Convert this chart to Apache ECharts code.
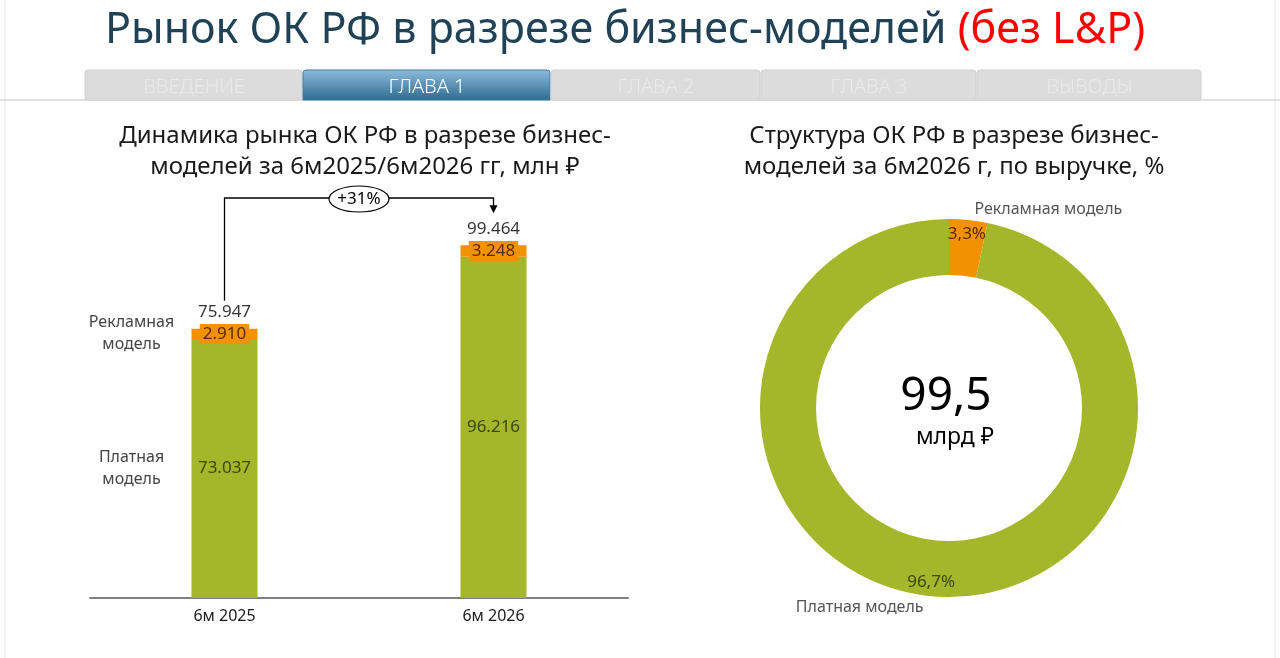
<!DOCTYPE html>
<html>
<head>
<meta charset="utf-8">
<title>Рынок ОК РФ в разрезе бизнес-моделей</title>
<script src="https://cdn.jsdelivr.net/npm/echarts@6/dist/echarts.min.js"></script>
<style>
  html, body { margin: 0; padding: 0; background: #fff; }
  #main { width: 1280px; height: 658px; }
</style>
</head>
<body>
<div id="main"></div>
<script type="text/javascript">
// данные, млн руб.
var categories = ['6м 2025', '6м 2026'];
var paid = [73037, 96216];   // Платная модель
var ads = [2910, 3248];      // Рекламная модель
var seriesNames = ['Платная модель', 'Рекламная модель'];
var tabs = ['ВВЕДЕНИЕ', 'ГЛАВА 1', 'ГЛАВА 2', 'ГЛАВА 3', 'ВЫВОДЫ'];
var activeTab = 1;

var GREEN = '#a4b62a';
var ORANGE = '#f39200';
var FONT = 'Noto Sans';

var totals = paid.map(function (v, i) { return v + ads[i]; });

// 75947 -> "75.947"
function fmt(v) {
	return String(v).replace(/\B(?=(\d{3})+(?!\d))/g, '.');
}
function comma(v, d) {
	return v.toFixed(d).replace('.', ',');
}

var chart = echarts.init(document.getElementById('main'));

var option = {
	animation: false,
	textStyle: { fontFamily: FONT },
	title: [{
		left: 100, top: 4,
		text: '{a|Рынок ОК РФ в разрезе бизнес-моделей }{b|(без L&P)}',
		textStyle: {
			fontWeight: 'normal',
			rich: {
				a: { fontSize: 43, fontWeight: 'normal', color: '#1f4257', fontFamily: FONT },
				b: { fontSize: 43, fontWeight: 'normal', color: '#ff0000', fontFamily: FONT }
			}
		}
	}, {
		left: 360, top: 116, textAlign: 'center',
		text: 'Динамика рынка ОК РФ в разрезе бизнес-\nмоделей за 6м2025/6м2026 гг, млн ₽',
		textStyle: { fontSize: 24, lineHeight: 31, fontWeight: 'normal', color: '#1a1a1a' }
	}, {
		left: 949, top: 116, textAlign: 'center',
		text: 'Структура ОК РФ в разрезе бизнес-\nмоделей за 6м2026 г, по выручке, %',
		textStyle: { fontSize: 24, lineHeight: 31, fontWeight: 'normal', color: '#1a1a1a' }
	}],
	grid: { left: 90, right: 652, top: 208, bottom: 60 },
	xAxis: {
		type: 'category',
		data: categories,
		axisTick: { show: false },
		axisLine: { lineStyle: { color: '#7f7f7f', width: 2 } },
		axisLabel: { fontSize: 16, color: '#1a1a1a', margin: 10 }
	},
	yAxis: { type: 'value', show: false, min: 0, max: 110000, splitLine: { show: false } },
	series: [{
		name: seriesNames[0],
		type: 'bar', stack: 'a', barWidth: 66, barGap: '-100%',
		data: paid,
		itemStyle: { color: GREEN },
		label: {
			show: true, position: 'inside', fontSize: 17, color: '#3a4812',
			formatter: function (p) { return fmt(p.value); }
		}
	}, {
		name: seriesNames[1],
		type: 'bar', stack: 'a', barWidth: 66, barGap: '-100%',
		data: ads,
		itemStyle: { color: ORANGE },
		label: {
			show: true, position: 'inside', fontSize: 17, color: '#5a2a00',
			backgroundColor: ORANGE, padding: [2, 3, 1, 3],
			formatter: function (p) { return fmt(p.value); }
		}
	}, {
		// подписи слева от первого столбца
		name: 'ghost-paid',
		type: 'bar', stack: 'b', barWidth: 66, barGap: '-100%', silent: true,
		data: paid.map(function (v, i) { return { value: v, label: { show: i === 0 } }; }),
		itemStyle: { color: 'rgba(0,0,0,0)' },
		label: {
			position: 'left', distance: 60, align: 'center', fontSize: 16, lineHeight: 22,
			color: '#444', formatter: 'Платная\nмодель'
		}
	}, {
		name: 'ghost-ads',
		type: 'bar', stack: 'b', barWidth: 66, barGap: '-100%', silent: true,
		data: ads.map(function (v, i) { return { value: v, label: { show: i === 0 } }; }),
		itemStyle: { color: 'rgba(0,0,0,0)' },
		label: {
			position: 'left', distance: 60, align: 'center', fontSize: 16, lineHeight: 22,
			color: '#444', formatter: 'Рекламная\nмодель'
		}
	}, {
		// итоги над столбцами
		name: 'Итого',
		type: 'scatter', symbolSize: 2, silent: true,
		data: totals,
		itemStyle: { color: 'rgba(0,0,0,0)' },
		label: {
			show: true, position: 'top', distance: 7, fontSize: 17, color: '#000',
			formatter: function (p) { return fmt(p.value); }
		},
		z: 5
	}, {
		// кольцо
		type: 'pie', silent: true,
		center: [949, 408], radius: [133, 189],
		startAngle: 90, clockwise: true,
		label: { show: false }, labelLine: { show: false },
		data: [
			{ name: seriesNames[1], value: ads[1], itemStyle: { color: ORANGE } },
			{ name: seriesNames[0], value: paid[1], itemStyle: { color: GREEN } }
		]
	}, {
		// проценты внутри кольца
		type: 'pie', silent: true,
		center: [949, 408], radius: [155, 189],
		startAngle: 90, clockwise: true,
		itemStyle: { color: 'rgba(0,0,0,0)' },
		labelLine: { show: false },
		label: {
			show: true, position: 'inside', fontSize: 17,
			formatter: function (p) { return comma(p.value / totals[1] * 100, 1) + '%'; }
		},
		data: [
			{ name: seriesNames[1], value: ads[1], label: { color: '#5a2a00' } },
			{ name: seriesNames[0], value: paid[1], label: { color: '#3a4812' } }
		]
	}, {
		// названия сегментов
		type: 'pie', silent: true,
		center: [949, 408], radius: [133, 189],
		startAngle: 90, clockwise: true,
		itemStyle: { color: 'rgba(0,0,0,0)' },
		labelLine: { show: false, length: 11, length2: 0 },
		label: { show: true, position: 'outside', fontSize: 16, color: '#555', formatter: '{b}' },
		data: [
			{ name: seriesNames[1], value: ads[1] },
			{ name: seriesNames[0], value: paid[1] }
		]
	}]
};

chart.setOption(option);

// оформление: вкладки, рамка, стрелка роста, центр кольца
var tabX = [85, 303, 551, 761, 977, 1202];
var els = [];
els.push({ type: 'line', shape: { x1: 0, y1: 100, x2: 1280, y2: 100 }, style: { stroke: '#d6d6d6', lineWidth: 1.5 }, z: 1 });
els.push({ type: 'line', shape: { x1: 5, y1: 0, x2: 5, y2: 658 }, style: { stroke: '#e6e6e6', lineWidth: 1 } });
els.push({ type: 'line', shape: { x1: 1275, y1: 0, x2: 1275, y2: 658 }, style: { stroke: '#e6e6e6', lineWidth: 1 } });
tabs.forEach(function (t, i) {
	var active = i === activeTab;
	els.push({
		type: 'rect', z: 2,
		shape: { x: tabX[i], y: 70, width: tabX[i + 1] - tabX[i] - 1, height: 30, r: [3, 3, 0, 0] },
		style: {
			fill: active ? new echarts.graphic.LinearGradient(0, 0, 0, 1, [
				{ offset: 0, color: '#8dbcdb' }, { offset: 1, color: '#2e6a91' }
			]) : '#dcdcdc',
			stroke: active ? '#3f7ca3' : '#d0d0d0', lineWidth: 1
		}
	});
	els.push({
		type: 'text', z: 3,
		x: (tabX[i] + tabX[i + 1]) / 2, y: 87,
		style: {
			text: t, fontFamily: FONT, fontSize: 20, fontWeight: 300,
			fill: active ? '#ffffff' : '#e9e9e9', align: 'center', verticalAlign: 'middle'
		}
	});
});

var x0 = chart.convertToPixel({ xAxisIndex: 0 }, categories[0]);
var x1 = chart.convertToPixel({ xAxisIndex: 0 }, categories[1]);
var yT0 = chart.convertToPixel({ yAxisIndex: 0 }, totals[0]);
var yT1 = chart.convertToPixel({ yAxisIndex: 0 }, totals[1]);
var yTop = 198;
var tip = yT1 - 32;
var growth = Math.round((totals[1] / totals[0] - 1) * 100);

els.push({
	type: 'polyline', z: 5,
	shape: { points: [[x0, yT0 - 28], [x0, yTop], [x1, yTop], [x1, tip - 6]] },
	style: { stroke: '#000', lineWidth: 1.3, fill: null }
});
els.push({
	type: 'polygon', z: 5,
	shape: { points: [[x1 - 4, tip - 8], [x1 + 4, tip - 8], [x1, tip]] },
	style: { fill: '#000' }
});
els.push({
	type: 'ellipse', z: 6,
	shape: { cx: (x0 + x1) / 2, cy: yTop + 1, rx: 30, ry: 13 },
	style: { fill: '#fff', stroke: '#000', lineWidth: 1.2 }
});
els.push({
	type: 'text', z: 7,
	x: (x0 + x1) / 2, y: yTop + 1,
	style: { text: '+' + growth + '%', fontFamily: FONT, fontSize: 17, fill: '#000', align: 'center', verticalAlign: 'middle' }
});
els.push({
	type: 'text', z: 7, x: 946, y: 397,
	style: { text: comma(totals[1] / 1000, 1), fontFamily: FONT, fontSize: 46, fill: '#000', align: 'center', verticalAlign: 'middle' }
});
els.push({
	type: 'text', z: 7, x: 955, y: 437,
	style: { text: 'млрд ₽', fontFamily: FONT, fontSize: 23, fill: '#000', align: 'center', verticalAlign: 'middle' }
});

chart.setOption({ graphic: { elements: els } });
</script>
</body>
</html>
